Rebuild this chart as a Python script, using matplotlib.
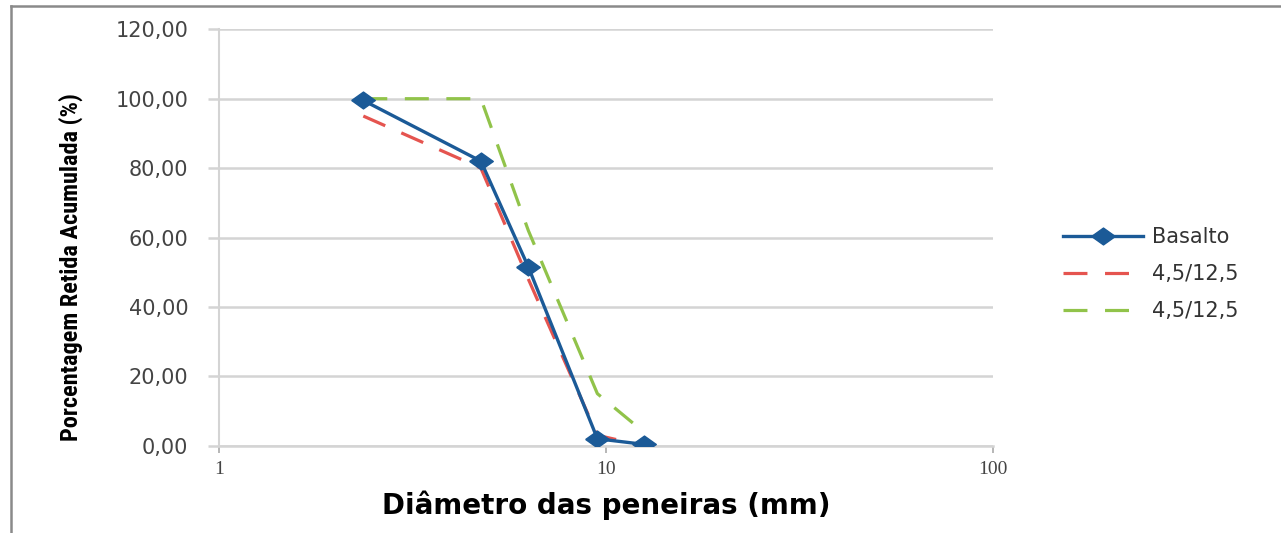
import matplotlib.pyplot as plt
from matplotlib.lines import Line2D
from matplotlib.ticker import FixedLocator, FuncFormatter
from matplotlib import font_manager

# Abertura das peneiras (mm) e porcentagem retida acumulada (%)
peneiras = [2.36, 4.75, 6.3, 9.5, 12.5]
basalto = [99.5, 82.0, 51.5, 2.0, 0.4]
faixa_inf = [95.0, 80.0, 48.0, 3.0, 0.0]
faixa_sup = [100.0, 100.0, 62.0, 15.0, 4.0]

nomes = ['Basalto', '4,5/12,5', '4,5/12,5']
y_ticks = [0, 20, 40, 60, 80, 100, 120]
x_ticks = [1, 10, 100]

azul = '#1b5a97'
vermelho = '#e5544f'
verde = '#91c34a'
cinza_grade = '#d4d4d4'

# fonte estreita para o titulo do eixo y, se houver
instaladas = {f.name for f in font_manager.fontManager.ttflist}
estreitas = [n for n in ['Liberation Sans Narrow', 'Roboto Condensed',
                         'DejaVu Sans Condensed', 'Open Sans Condensed']
             if n in instaladas]
fonte_y = estreitas[0] if estreitas else 'Liberation Sans'
tam_y = 17.5 if estreitas else 15

fig = plt.figure(figsize=(12.81, 5.33), dpi=100)
ax = fig.add_axes([219 / 1281, 1 - 445.7 / 533, 774 / 1281, 416.4 / 533])

# losango achatado como no original
losango = [(-1.4, 0), (0, 1), (1.4, 0), (0, -1), (-1.4, 0)]

ax.plot(peneiras, basalto, color=azul, lw=2.4, marker=losango, markersize=17,
        label=nomes[0], zorder=4)
ax.plot(peneiras, faixa_inf, color=vermelho, lw=2.3, linestyle=(0, (7.5, 5.5)),
        label=nomes[1], zorder=3)
ax.plot(peneiras, faixa_sup, color=verde, lw=2.3, linestyle=(0, (7.5, 5.5)),
        label=nomes[2], zorder=3)

ax.set_xscale('log')
ax.set_xlim(1, 100)
ax.set_ylim(0, 120)
ax.xaxis.set_major_locator(FixedLocator(x_ticks))
ax.xaxis.set_minor_locator(FixedLocator([]))
ax.xaxis.set_major_formatter(FuncFormatter(lambda v, p: f'{v:g}'))
ax.set_yticks(y_ticks)
ax.yaxis.set_major_formatter(FuncFormatter(lambda v, p: f'{v:.2f}'.replace('.', ',')))

ax.grid(axis='y', color=cinza_grade, lw=1.8)
ax.set_axisbelow(True)
for s in ['top', 'right']:
    ax.spines[s].set_visible(False)
ax.spines['left'].set_color(cinza_grade)
ax.spines['left'].set_linewidth(1.5)
ax.spines['bottom'].set_color(cinza_grade)
ax.spines['bottom'].set_linewidth(1.8)

ax.tick_params(axis='y', length=8, width=1.8, color=cinza_grade, pad=14,
               labelsize=15, labelcolor='#444444')
ax.tick_params(axis='x', length=5, width=1.2, color='#aaaaaa', pad=6,
               labelsize=14, labelcolor='#444444')
for lbl in ax.get_xticklabels():
    lbl.set_family('Liberation Serif')

ax.set_ylabel('Porcentagem Retida Acumulada (%)', fontsize=tam_y, fontweight='bold',
              family=fonte_y, va='center')
ax.yaxis.set_label_coords((71 - 219) / 774, (445.7 - 267) / 416.4)
ax.set_xlabel('Diâmetro das peneiras (mm)', fontsize=20, fontweight='bold',
              va='center')
ax.xaxis.set_label_coords(0.5, (445.7 - 505) / 416.4)

fig.legend(loc='upper left', bbox_to_anchor=(1063 / 1281, 1 - 227 / 533),
           frameon=False, fontsize=15, handlelength=3.85, handletextpad=0.42,
           labelspacing=0.82, borderpad=0, borderaxespad=0)
for t in fig.legends[0].get_texts():
    t.set_color('#333333')

# moldura cinza da imagem original
fig.add_artist(Line2D([11 / 1281, 11 / 1281], [0, 1 - 6 / 533],
                      transform=fig.transFigure, color='#8a8a8a', lw=1.8))
fig.add_artist(Line2D([11 / 1281, 1], [1 - 6 / 533, 1 - 6 / 533],
                      transform=fig.transFigure, color='#8a8a8a', lw=1.8))

fig.savefig('out.png', dpi=100)
